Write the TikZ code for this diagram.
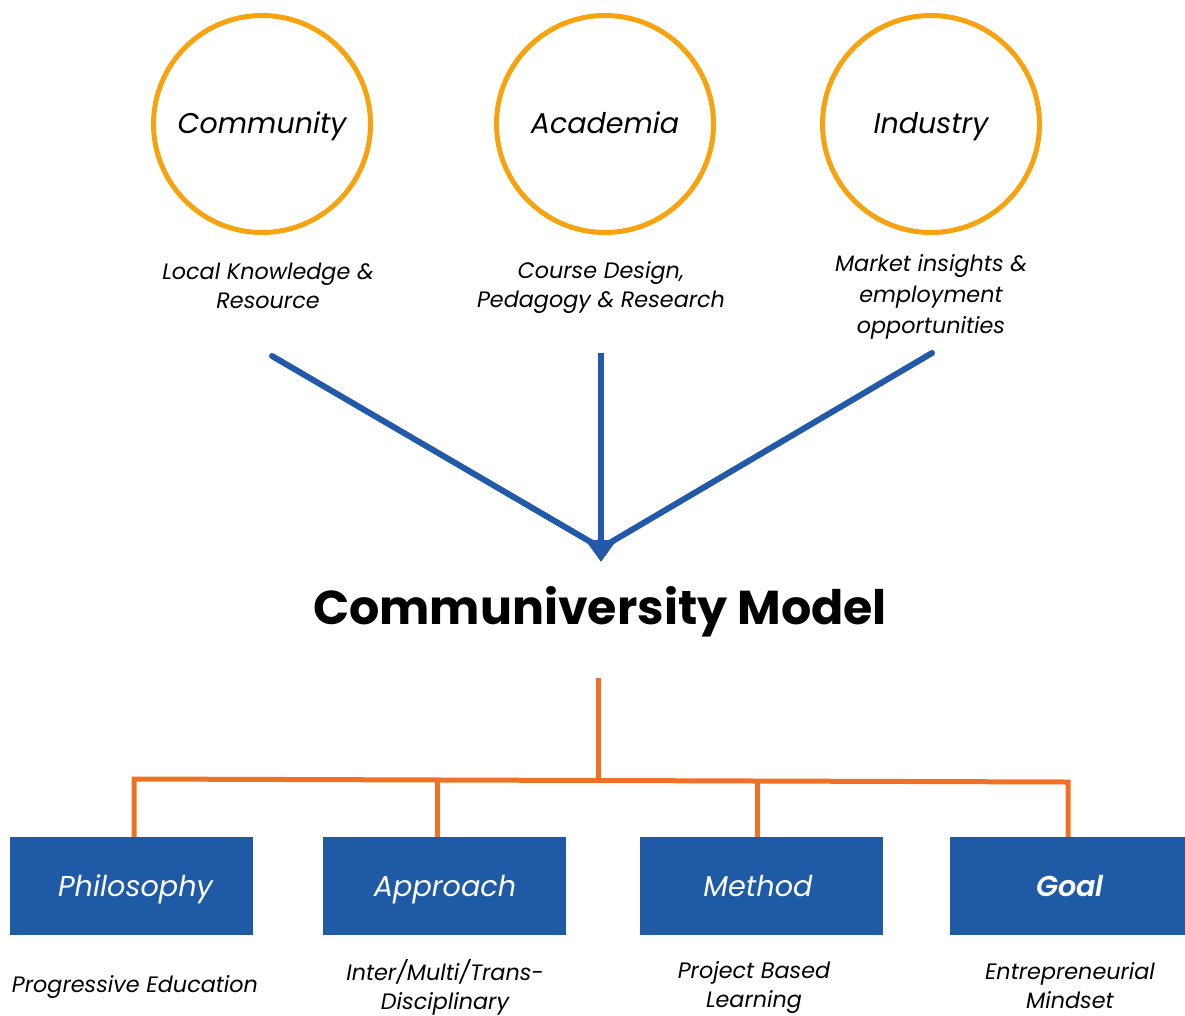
\documentclass[tikz,border=0pt]{standalone}
\usepackage{fontspec}
\setmainfont{Poppins}
\IfFontExistsTF{Poppins SemiBold Italic}{\newfontfamily\goalfont{Poppins SemiBold Italic}}{\newcommand\goalfont{\bfseries\itshape}}
\usetikzlibrary{arrows.meta}
\definecolor{ringorange}{HTML}{F7A30F}
\definecolor{linkblue}{HTML}{2259A8}
\definecolor{boxblue}{HTML}{1F5AA6}
\definecolor{busorange}{HTML}{EE7126}
\tikzset{
  ring/.style={circle, draw=ringorange, line width=5pt, minimum size=217pt, inner sep=0pt, text height=20pt, text depth=2pt, font=\fontsize{28.5}{32}\selectfont\itshape},
  captext/.style={align=center, font=\fontsize{22.3}{29}\selectfont\itshape, inner sep=0pt},
  link/.style={draw=linkblue, line width=6pt},
  bus/.style={draw=busorange, line width=5pt},
  pillar/.style={fill=boxblue, minimum width=243pt, minimum height=98pt, inner sep=0pt},
  pillartext/.style={text=white, inner sep=0pt, text height=22pt, text depth=2pt, font=\fontsize{28.7}{32}\selectfont\itshape},
}
\begin{document}
\begin{tikzpicture}[x=1pt, y=-1pt]
\useasboundingbox (0,0) rectangle (1185,1015);
% circles
\node[ring] (com) at (262,124) {Community};
\node[ring] (aca) at (605,124) {Academia};
\node[ring] (ind) at (931,124) {Industry};
% captions
\node[captext] (comcap) at (268,286) {Local Knowledge \&\\Resource};
\node[captext] (acacap) at (601,288) {Course Design,\\Pedagogy \& Research};
\node[captext, font=\fontsize{22.3}{31}\selectfont\itshape] (indcap) at (931,297) {Market insights \&\\employment\\opportunities};
% link endpoints
\coordinate (l1) at (272,356);
\coordinate (l2) at (601,353);
\coordinate (l3) at (932,353);
\coordinate (meet) at (601,548);
\coordinate (tip) at (601,562);
% title
\node[font=\fontsize{47.5}{50}\selectfont\bfseries, inner sep=0pt, anchor=base] (title) at (600,624) {Communiversity Model};
% blue links
\draw[link, line cap=round] (l1) -- (meet);
\draw[link, line cap=round] (l3) -- (meet);
\draw[link, -{Triangle[length=22pt, width=30pt]}] (l2) -- (tip);
% boxes
\node[pillar] (phi) at (131.5,886) {};
\node[pillar] (app) at (444.5,886) {};
\node[pillar] (met) at (761,886) {};
\node[pillar, anchor=west] (goa) at (950,886) {};
\node[pillartext] (phit) at (135.5,886) {Philosophy};
\node[pillartext] (appt) at (445,886) {Approach};
\node[pillartext] (mett) at (758,886) {Method};
\node[pillartext, font=\fontsize{28.7}{32}\selectfont\goalfont] (goat) at (1070,886) {Goal};
% bus
\coordinate (top) at (598,678);
\coordinate (hub) at (598,779);
\coordinate (b1) at (134,779);
\coordinate (b2) at (437,779);
\coordinate (b3) at (757,781);
\coordinate (b4) at (1068,782);
\draw[bus] (top) -- (hub);
\draw[bus] (b1 |- phi.north) -- (b1) -- (b4) -- (b4 |- goa.north);
\draw[bus] (b2) -- (b2 |- app.north);
\draw[bus] (b3) -- (b3 |- met.north);
% bottom captions
\node[captext] (phicap) at (135,987) {Progressive Education};
\node[captext] (appcap) at (445,987) {Inter/Multi/Trans-\\Disciplinary};
\node[captext] (metcap) at (754,988) {Project Based\\Learning};
\node[captext] (goacap) at (1070,986) {Entrepreneurial\\Mindset};
\end{tikzpicture}
\end{document}
